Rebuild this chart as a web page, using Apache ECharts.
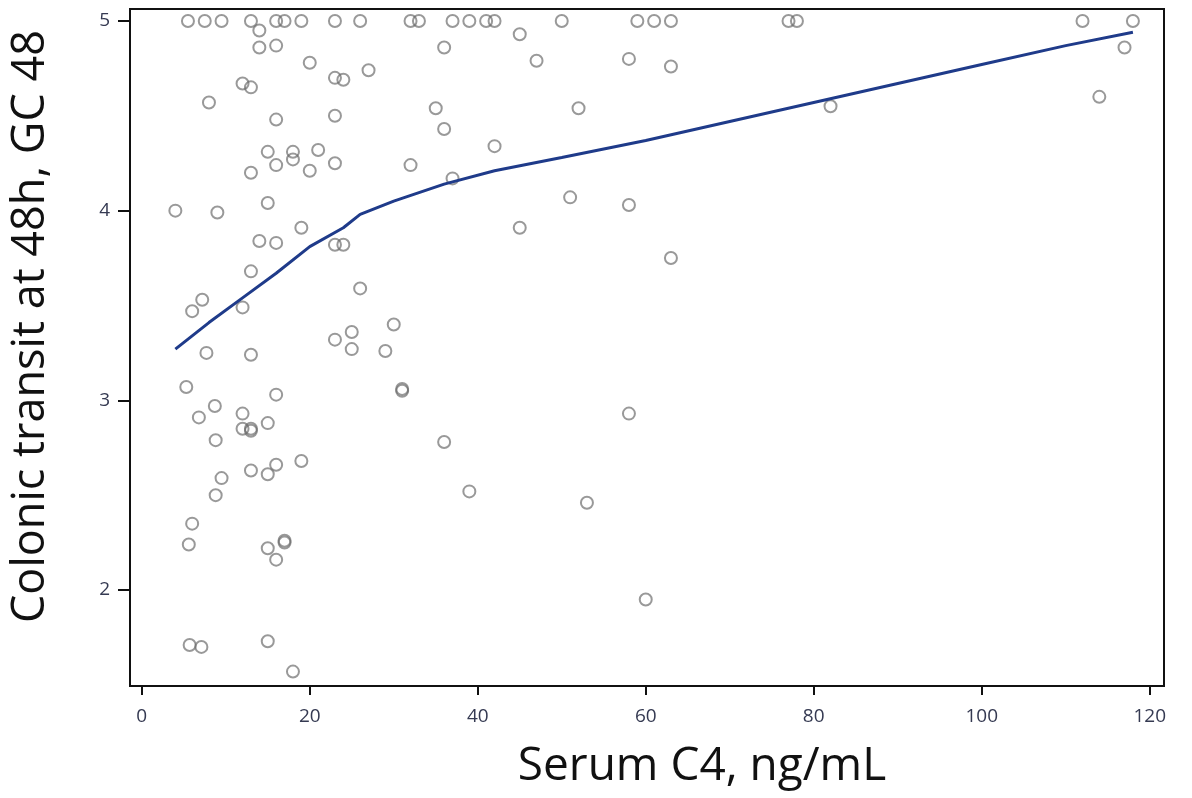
<!DOCTYPE html>
<html>
<head>
<meta charset="utf-8">
<script src="https://cdn.jsdelivr.net/npm/echarts@6/dist/echarts.min.js"></script>
<style>html,body{margin:0;padding:0;background:#fff}#c{width:1192px;height:798px}</style>
</head>
<body>
<div id="c"></div>
<script>
// Scatter points: Serum C4 (ng/mL) and colonic transit GC 48
const c4Values = [
  5.5, 7.5, 9.5, 13, 16, 17, 19, 23, 26, 32, 33, 37, 39, 41, 42, 50, 59, 61, 63, 77, 78, 112, 118,
  14, 14, 16, 20, 27, 23, 24, 12, 13, 8, 36, 35, 36, 16, 23, 42, 15, 18, 18, 21, 16, 23, 20, 13, 32, 37, 15, 4, 9, 19, 14, 16, 23, 24,
  45, 47, 58, 63, 52, 51, 58, 45, 82, 117, 114,
  63, 58,
  13, 7.2, 6, 12, 26, 30, 23, 25, 25, 29, 7.7, 13, 5.3, 31, 31, 16, 8.7, 6.8, 12, 12, 13, 13, 15, 8.8, 36, 19, 16, 13, 15, 9.5,
  8.8, 39, 6, 5.6, 17, 17, 15, 16, 5.7, 7.1, 15, 18, 53, 60
];
const gc48Values = [
  5, 5, 5, 5, 5, 5, 5, 5, 5, 5, 5, 5, 5, 5, 5, 5, 5, 5, 5, 5, 5, 5, 5,
  4.95, 4.86, 4.87, 4.78, 4.74, 4.70, 4.69, 4.67, 4.65, 4.57, 4.86, 4.54, 4.43, 4.48, 4.50, 4.34, 4.31, 4.31, 4.27, 4.32, 4.24, 4.25, 4.21, 4.20, 4.24, 4.17, 4.04, 4.00, 3.99, 3.91, 3.84, 3.83, 3.82, 3.82,
  4.93, 4.79, 4.80, 4.76, 4.54, 4.07, 4.03, 3.91, 4.55, 4.86, 4.60,
  3.75, 2.93,
  3.68, 3.53, 3.47, 3.49, 3.59, 3.40, 3.32, 3.36, 3.27, 3.26, 3.25, 3.24, 3.07, 3.05, 3.06, 3.03, 2.97, 2.91, 2.93, 2.85, 2.84, 2.85, 2.88, 2.79, 2.78, 2.68, 2.66, 2.63, 2.61, 2.59,
  2.50, 2.52, 2.35, 2.24, 2.26, 2.25, 2.22, 2.16, 1.71, 1.70, 1.73, 1.57, 2.46, 1.95
];
// Smoothed (LOESS) fit line
const fitX = [4, 8, 12, 16, 20, 24, 26, 30, 36, 42, 50, 60, 70, 80, 90, 100, 110, 118];
const fitY = [3.27, 3.41, 3.54, 3.67, 3.81, 3.91, 3.98, 4.05, 4.14, 4.21, 4.28, 4.37, 4.47, 4.57, 4.67, 4.77, 4.87, 4.94];
// Tick labels
const xTicks = [0, 20, 40, 60, 80, 100, 120];
const yTicks = [2, 3, 4, 5];

const scatterData = c4Values.map((v, i) => [v, gc48Values[i]]);
const fitData = fitX.map((v, i) => [v, fitY[i]]);

const chart = echarts.init(document.getElementById('c'), null, {renderer: 'canvas'});
const labelFont = '"Open Sans", "Noto Sans", sans-serif';
chart.setOption({
  animation: false,
  backgroundColor: '#fff',
  grid: {
    left: 130, right: 28, top: 9, bottom: 112,
    outerBoundsMode: 'none', containLabel: false,
    show: true, borderColor: '#111', borderWidth: 2, backgroundColor: 'transparent'
  },
  xAxis: {
    type: 'value', min: -1.4, max: 121.7,
    name: 'Serum C4, ng/mL', nameLocation: 'middle', nameGap: 58,
    nameTextStyle: {fontSize: 46, color: '#111', fontFamily: labelFont, padding: [0, 0, 0, 110]},
    axisLine: {show: true, onZero: false, lineStyle: {color: '#111', width: 2}},
    axisTick: {show: true, length: 9, lineStyle: {color: '#111', width: 2}, customValues: xTicks},
    axisLabel: {fontSize: 19, color: '#353a52', margin: 21, fontFamily: labelFont, customValues: xTicks},
    splitLine: {show: false}
  },
  yAxis: {
    type: 'value', min: 1.494, max: 5.063,
    name: 'Colonic transit at 48h, GC 48', nameLocation: 'middle', nameGap: 76,
    nameTextStyle: {fontSize: 45, color: '#111', fontFamily: labelFont, padding: [0, 0, 0, 42]},
    axisLine: {show: true, onZero: false, lineStyle: {color: '#111', width: 2}},
    axisTick: {show: true, length: 12, lineStyle: {color: '#111', width: 2}, customValues: yTicks},
    axisLabel: {fontSize: 19, color: '#353a52', margin: 20, fontFamily: labelFont, customValues: yTicks},
    splitLine: {show: false}
  },
  series: [
    {
      type: 'scatter',
      data: scatterData,
      symbol: 'circle',
      symbolSize: 12,
      itemStyle: {color: 'rgba(255,255,255,0)', borderColor: 'rgba(105,105,105,0.85)', borderWidth: 2}
    },
    {
      type: 'line',
      data: fitData,
      showSymbol: false,
      smooth: false,
      lineStyle: {color: '#1f3b8a', width: 3},
      z: 3
    }
  ]
});
</script>
</body>
</html>
